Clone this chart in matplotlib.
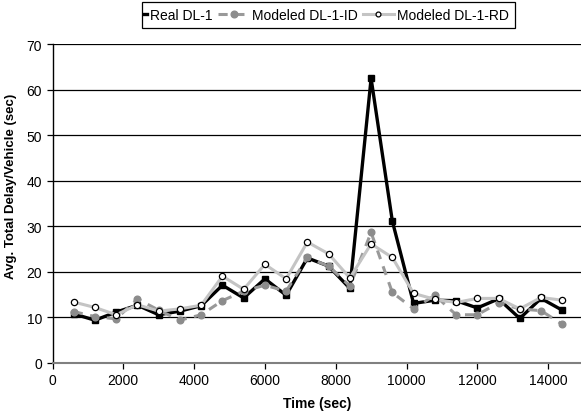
import matplotlib
matplotlib.use("Agg")
import matplotlib.pyplot as plt
from matplotlib.patches import Rectangle

plt.rcParams['font.family'] = ['Liberation Sans', 'DejaVu Sans']

time_sec = [600, 1200, 1800, 2400, 3000, 3600, 4200, 4800, 5400, 6000, 6600, 7200,
            7800, 8400, 9000, 9600, 10200, 10800, 11400, 12000, 12600, 13200, 13800, 14400]
real_dl1 = [10.7, 9.3, 11.1, 12.6, 10.5, 11.3, 12.5, 17.0, 14.2, 18.4, 14.8, 23.0,
            21.2, 16.3, 62.5, 31.1, 13.0, 13.7, 13.6, 12.0, 14.0, 9.7, 14.1, 11.5]
modeled_id = [11.2, 10.1, 9.6, 14.0, 11.5, 9.3, 10.5, 13.6, 15.7, 17.0, 15.7, 23.1,
              21.2, 16.8, 28.6, 15.4, 11.8, 14.8, 10.5, 10.5, 13.1, 11.8, 11.4, 8.4]
modeled_rd = [13.3, 12.1, 10.5, 12.7, 11.3, 11.8, 12.6, 19.0, 16.1, 21.6, 18.4, 26.5,
              23.9, 18.6, 26.1, 23.1, 15.2, 13.9, 13.2, 14.1, 14.1, 11.8, 14.3, 13.7]

series_labels = ["Real DL-1", "Modeled DL-1-ID", "Modeled DL-1-RD"]
x_ticks = [0, 2000, 4000, 6000, 8000, 10000, 12000, 14000]
y_ticks = [0, 10, 20, 30, 40, 50, 60, 70]

W, H = 581, 414
fig = plt.figure(figsize=(W / 100, H / 100), dpi=100)
left_px, right_px, bottom_px, top_px = 52.5, 583.5, 363.5, 45.3
ax = fig.add_axes([left_px / W, 1 - bottom_px / H, (right_px - left_px) / W, (bottom_px - top_px) / H])

ax.plot(time_sec, real_dl1, color='black', lw=2.4, marker='s', ms=4.5,
        mfc='black', mec='black', label=series_labels[0], zorder=3)
ax.plot(time_sec, modeled_id, color='#999999', lw=2.2, ls=(0, (3, 2.5)), marker='o', ms=4.8,
        mfc='#8c8c8c', mec='#8c8c8c', label=series_labels[1], zorder=4)
ax.plot(time_sec, modeled_rd, color='#c4c4c4', lw=2.2, marker='o', ms=4.5,
        mfc='white', mec='black', mew=0.9, label=series_labels[2], zorder=5)

ax.set_xlim(0, 15000)
ax.set_ylim(0, 70)
ax.set_xticks(x_ticks)
ax.set_yticks(y_ticks)
ax.tick_params(axis='both', labelsize=10, direction='out', length=4, width=0.9, colors='black')
ax.grid(axis='y', color='black', lw=0.9)
ax.set_axisbelow(True)
for s in ['top', 'right']:
    ax.spines[s].set_visible(False)
ax.spines['left'].set_color('black')
ax.spines['left'].set_linewidth(1.0)
ax.spines['bottom'].set_color('#808080')
ax.spines['bottom'].set_linewidth(1.5)

ax.set_xlabel("Time (sec)", fontsize=10, fontweight='bold')
ax.set_ylabel("Avg. Total Delay/Vehicle (sec)", fontsize=9.5, fontweight='bold')
ax.xaxis.set_label_coords((317 - left_px) / (right_px - left_px), -(404 - bottom_px) / (bottom_px - top_px))
ax.yaxis.set_label_coords(-(left_px - 11) / (right_px - left_px), (bottom_px - 186) / (bottom_px - top_px))
ax.xaxis.label.set_va('center')
ax.yaxis.label.set_va('center')

# legend: entries without frame, frame drawn as a rectangle that clips the first handle
fs = 10
leg = fig.legend(loc='center left', bbox_to_anchor=(116.6 / W, 1 - 16 / H), ncol=3,
                 fontsize=fs, frameon=False, handlelength=2.2, handletextpad=0.2,
                 columnspacing=0.42, borderpad=0, borderaxespad=0)
box = Rectangle((142 / W, 1 - 28.5 / H), (515 - 142) / W, 25.5 / H, transform=fig.transFigure,
                fill=False, edgecolor='black', lw=0.9, zorder=10)
fig.add_artist(box)
clip = Rectangle((142 / W, 1 - 28.5 / H), (515 - 142) / W, 25.5 / H, transform=fig.transFigure,
                 fill=False, visible=False)
fig.add_artist(clip)
handles = leg.legend_handles
handles[0].set_marker('None')
handles[0].set_clip_path(clip)
handles[0].set_clip_on(True)
handles[2].set_markersize(3.5)

fig.savefig("out.png", dpi=100)
